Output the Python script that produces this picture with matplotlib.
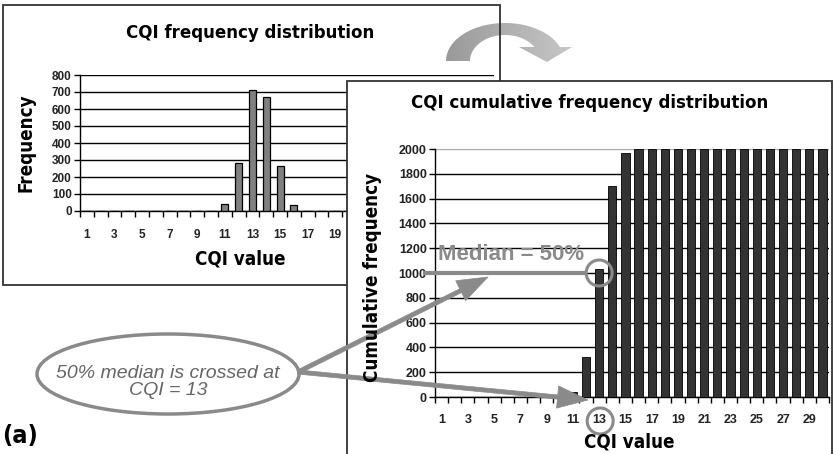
import matplotlib
matplotlib.use("Agg")
import matplotlib.pyplot as plt
from matplotlib.patches import Rectangle, Ellipse, Circle, FancyArrowPatch, Polygon
from matplotlib import font_manager
import numpy as np

# ---------------- data ----------------
cqi = list(range(1, 31))
frequency = [0, 0, 0, 0, 0, 0, 0, 0, 0, 0,
             40, 280, 710, 670, 265, 35, 0, 0, 0, 0,
             0, 0, 0, 0, 0, 0, 0, 0, 0, 0]
cumulative = [0, 0, 0, 0, 0, 0, 0, 0, 0, 0,
              40, 320, 1030, 1700, 1965, 2000, 2000, 2000, 2000, 2000,
              2000, 2000, 2000, 2000, 2000, 2000, 2000, 2000, 2000, 2000]
freq_yticks = [0, 100, 200, 300, 400, 500, 600, 700, 800]
cum_yticks = [0, 200, 400, 600, 800, 1000, 1200, 1400, 1600, 1800, 2000]
xtick_labels = [str(v) if v % 2 == 1 else "" for v in cqi]
# the left chart's labels beyond 19 are hidden behind the right panel
xtick_labels_left = [s if v < 20 else "" for v, s in zip(cqi, xtick_labels)]
title1 = "CQI frequency distribution"
title2 = "CQI cumulative frequency distribution"
ylabel1 = "Frequency"
ylabel2 = "Cumulative frequency"
xlabel = "CQI value"
median_label = "Median = 50%"
callout = "50% median is crossed at\nCQI = 13"
median_value = 1000
median_cqi = 13

W, H = 833, 454
SANS = ["Liberation Sans", "DejaVu Sans"]
GRAY = "#8a8a8a"

# condensed bold font if available
cond = [f for f in font_manager.fontManager.ttflist
        if "Condensed" in f.fname and "Bold" in f.fname and "DejaVu" in f.fname
        and "Oblique" not in f.fname]
if cond:
    NARROW_FP = font_manager.FontProperties(fname=cond[0].fname)
    NARROW_SCALE = 1.0
else:
    NARROW_FP = None
    NARROW_SCALE = 0.92


def ntext(ax, x, y, s, size, **kw):
    if NARROW_FP is not None:
        fp = NARROW_FP.copy()
        fp.set_size(size * NARROW_SCALE)
        return ax.text(x, y, s, fontproperties=fp, **kw)
    return ax.text(x, y, s, fontsize=size * NARROW_SCALE, family=SANS, fontweight="bold", **kw)


fig = plt.figure(figsize=(W / 100, H / 100), dpi=100)
fig.patch.set_facecolor("white")


def rect(x0, y0, x1, y1):
    return [x0 / W, 1 - y1 / H, (x1 - x0) / W, (y1 - y0) / H]


def pixel_axes(z):
    a = fig.add_axes([0, 0, 1, 1], zorder=z)
    a.set_xlim(0, W)
    a.set_ylim(H, 0)
    a.axis("off")
    a.patch.set_alpha(0)
    return a


# background: panel 1 box and the curved arrow
bg = pixel_axes(0)
bg.add_patch(Rectangle((3, 5), 497, 280, facecolor="white", edgecolor="none", zorder=1))

# curved (decorative) arrow built from two elliptical arcs and a triangular head
cx, cy = 505.0, 61.0
ro_x, ro_y = 59.0, 38.0
ri_x, ri_y = 35.0, 26.0
yb = 47.0
th_o = np.arccos(np.sqrt(1 - ((cy - yb) / ro_y) ** 2))
th_i = np.arccos(np.sqrt(1 - ((cy - yb) / ri_y) ** 2))
t_out = np.linspace(np.pi, th_o, 60)
t_in = np.linspace(th_i, np.pi, 60)
outer = np.column_stack([cx + ro_x * np.cos(t_out), cy - ro_y * np.sin(t_out)])
inner = np.column_stack([cx + ri_x * np.cos(t_in), cy - ri_y * np.sin(t_in)])
head = np.array([[572, yb], [547, 62], [519, yb]])
pts = np.vstack([outer, head, inner])
arrow_poly = Polygon(pts, closed=True, facecolor="none", edgecolor="none", zorder=2)
bg.add_patch(arrow_poly)
grad = np.linspace(0.6, 0.78, 256).reshape(1, -1)
im = bg.imshow(grad, cmap="gray", vmin=0, vmax=1, extent=(445, 573, 63, 20),
               aspect="auto", zorder=2, interpolation="bilinear")
im.set_clip_path(arrow_poly)
bg.set_xlim(0, W)
bg.set_ylim(H, 0)
bg.add_patch(Rectangle((3, 5), 497, 280, facecolor="none", edgecolor="#333333", lw=1.3, zorder=3))


def style_axes(ax, yticks, tick_fs, bar_vals, color, width, edge_lw, xpad, labels):
    ax.bar(cqi, bar_vals, width=width, color=color, edgecolor="black", linewidth=edge_lw, zorder=3)
    ax.set_xlim(0.5, 30.5)
    ax.set_ylim(yticks[0], yticks[-1])
    ax.set_yticks(yticks)
    ax.set_yticklabels([str(v) for v in yticks], fontsize=tick_fs, family=SANS,
                       fontweight="bold", color="#222222")
    ax.set_xticks(cqi)
    ax.set_xticklabels(labels, fontsize=tick_fs, family=SANS, fontweight="bold", color="#222222")
    ax.set_xticks(np.arange(0.5, 31, 1), minor=True)
    ax.tick_params(axis="x", which="major", length=0, pad=xpad)
    ax.tick_params(axis="x", which="minor", length=4, direction="out", width=1)
    ax.tick_params(axis="y", length=4, direction="out", width=1, pad=2)
    for s in ["top", "right"]:
        ax.spines[s].set_visible(False)
    ax.spines["left"].set_linewidth(1)
    ax.spines["bottom"].set_linewidth(1)
    ax.yaxis.grid(True, color="black", linewidth=1.0, zorder=0)
    ax.set_axisbelow(True)
    ax.patch.set_alpha(0)


ax1 = fig.add_axes(rect(80, 75, 494, 211), zorder=1)
style_axes(ax1, freq_yticks, 8.5, frequency, "#808080", 0.5, 0.9, 13, xtick_labels_left)

# panel 2 box
bg2 = pixel_axes(2)
bg2.add_patch(Rectangle((347, 81), 485, 380, facecolor="white", edgecolor="#333333", lw=1.3))

ax2 = fig.add_axes(rect(435, 149, 829, 397), zorder=3)
style_axes(ax2, cum_yticks, 9, cumulative, "#333333", 0.62, 0.6, 12, xtick_labels)
ax2.get_ygridlines()[-1].set_color("#aaaaaa")

# overlay: titles, labels, annotations
ov = pixel_axes(10)
ntext(ov, 250, 33, title1, 13.3, ha="center", va="center")
ntext(ov, 240, 259, xlabel, 13.5, ha="center", va="center")
ntext(ov, 26, 143, ylabel1, 13.5, ha="center", va="center", rotation=90)
ntext(ov, 590, 103, title2, 13.3, ha="center", va="center")
ntext(ov, 629, 442, xlabel, 13.5, ha="center", va="center")
ntext(ov, 373, 277, ylabel2, 13.5, ha="center", va="center", rotation=90)
ntext(ov, 2, 436, "(a)", 18, ha="left", va="center")


def ax2_px(x, y):
    disp = ax2.transData.transform((x, y))
    return tuple(ov.transData.inverted().transform(disp))


mx, my = ax2_px(median_cqi, median_value)
lx, ly = ax2_px(median_cqi, 0)

ov.plot([423, mx - 14], [my, my], color=GRAY, lw=3, solid_capstyle="butt")
ov.add_patch(Circle((mx, my), 13, facecolor="none", edgecolor=GRAY, lw=2.2))
ov.add_patch(Circle((lx + 1, ly + 24), 13, facecolor="none", edgecolor=GRAY, lw=2.2))
ov.text(511, 254, median_label, ha="center", va="center", fontsize=16, fontweight="bold",
        color=GRAY, family=SANS)

ov.add_patch(Ellipse((168, 374), 262, 80, facecolor="white", edgecolor=GRAY, lw=2.5))
ov.text(168, 382, callout, ha="center", va="center", fontsize=14, fontstyle="italic",
        color="#666666", family=SANS, linespacing=1.05)

for end in [(488, 277), (588, 400)]:
    ov.add_patch(FancyArrowPatch((298, 372), end,
                                 arrowstyle="simple,head_width=1.6,head_length=2.2,tail_width=0.3",
                                 mutation_scale=10, color=GRAY, lw=0.5, shrinkA=0, shrinkB=0))

fig.savefig("out.png", dpi=100, facecolor="white")
